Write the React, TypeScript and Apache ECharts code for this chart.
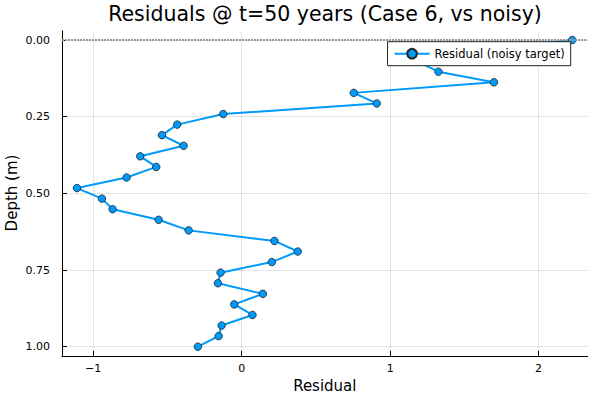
import React, { useEffect, useRef } from "react";
import * as echarts from "echarts";

const depths = [
  0, 0.0345, 0.069, 0.1034, 0.1379, 0.1724, 0.2069, 0.2414, 0.2759, 0.3103,
  0.3448, 0.3793, 0.4138, 0.4483, 0.4828, 0.5172, 0.5517, 0.5862, 0.6207, 0.6552,
  0.6897, 0.7241, 0.7586, 0.7931, 0.8276, 0.8621, 0.8966, 0.931, 0.9655, 1,
];
const residuals = [
  2.227, 1.6, 1.18, 1.325, 1.699, 0.755, 0.91, -0.124, -0.434, -0.537,
  -0.391, -0.683, -0.575, -0.775, -1.109, -0.941, -0.869, -0.559, -0.357, 0.221,
  0.378, 0.203, -0.142, -0.16, 0.143, -0.05, 0.073, -0.135, -0.155, -0.295,
];
const xTicks = [-1, 0, 1, 2];
const yTicks = [0, 0.25, 0.5, 0.75, 1];

const titleText = "Residuals @ t=50 years (Case 6, vs noisy)";
const seriesName = "Residual (noisy target)";
const xLabel = "Residual";
const yLabel = "Depth (m)";
const FONT = "DejaVu Sans";

export default function App() {
  const ref = useRef<HTMLDivElement>(null);
  useEffect(() => {
    if (!ref.current) return;
    const chart = echarts.init(ref.current, null, { renderer: "svg" });
    const data = depths.map((d, i) => [residuals[i], d]);
    chart.setOption({
      animation: false,
      backgroundColor: "#fff",
      textStyle: { fontFamily: FONT },
      graphic: [
        {
          type: "text",
          x: 325,
          y: 14,
          style: {
            text: titleText,
            fill: "#000",
            font: `20.5px "${FONT}"`,
            textAlign: "center",
            textVerticalAlign: "middle",
          },
        },
        {
          type: "text",
          x: 12,
          y: 193,
          rotation: Math.PI / 2,
          style: {
            text: yLabel,
            fill: "#000",
            font: `15px "${FONT}"`,
            textAlign: "center",
            textVerticalAlign: "middle",
          },
        },
      ],
      grid: { left: 62, right: 12.4, top: 30.8, bottom: 44.1, containLabel: false },
      legend: {
        right: 29.3,
        top: 41.7,
        padding: [6, 6, 6, 6],
        itemWidth: 35,
        itemHeight: 12,
        itemGap: 6,
        backgroundColor: "#fff",
        borderColor: "#222",
        borderWidth: 1,
        borderRadius: 0,
        textStyle: { fontFamily: FONT, fontSize: 11.5, color: "#000" },
        data: [seriesName],
      },
      xAxis: {
        type: "value",
        min: -1.21,
        max: 2.33,
        name: xLabel,
        nameLocation: "middle",
        nameGap: 23,
        nameTextStyle: { fontFamily: FONT, fontSize: 15, color: "#000" },
        axisLine: { show: true, onZero: false, lineStyle: { color: "#000", width: 1 } },
        axisTick: { show: true, inside: true, length: 5, customValues: xTicks, lineStyle: { color: "#000" } },
        axisLabel: {
          customValues: xTicks,
          fontFamily: FONT,
          fontSize: 11,
          color: "#000",
          margin: 7,
          formatter: (v: number) => (v < 0 ? "\u2212" + Math.abs(v) : String(v)),
        },
        splitLine: { show: true, lineStyle: { color: "rgba(0,0,0,0.1)", width: 1 } },
      },
      yAxis: {
        type: "value",
        inverse: true,
        min: -0.03,
        max: 1.03,
        axisLine: { show: true, onZero: false, lineStyle: { color: "#000", width: 1 } },
        axisTick: { show: true, inside: true, length: 5, customValues: yTicks, lineStyle: { color: "#000" } },
        axisLabel: {
          customValues: yTicks,
          fontFamily: FONT,
          fontSize: 11,
          color: "#000",
          margin: 12,
          formatter: (v: number) => v.toFixed(2),
        },
        splitLine: { show: true, lineStyle: { color: "rgba(0,0,0,0.1)", width: 1 } },
      },
      series: [
        {
          name: seriesName,
          type: "line",
          data,
          symbol: "circle",
          symbolSize: 7.5,
          lineStyle: { color: "#009AFA", width: 2 },
          itemStyle: { color: "#009AFA", borderColor: "#222", borderWidth: 0.8 },
          markLine: {
            silent: true,
            symbol: "none",
            label: { show: false },
            lineStyle: { color: "#999", type: [2, 1], width: 2 },
            data: [{ yAxis: 0 }],
          },
        },
      ],
    });
    return () => chart.dispose();
  }, []);
  return <div ref={ref} style={{ width: 600, height: 400, position: "absolute", left: 0, top: 0 }} />;
}
